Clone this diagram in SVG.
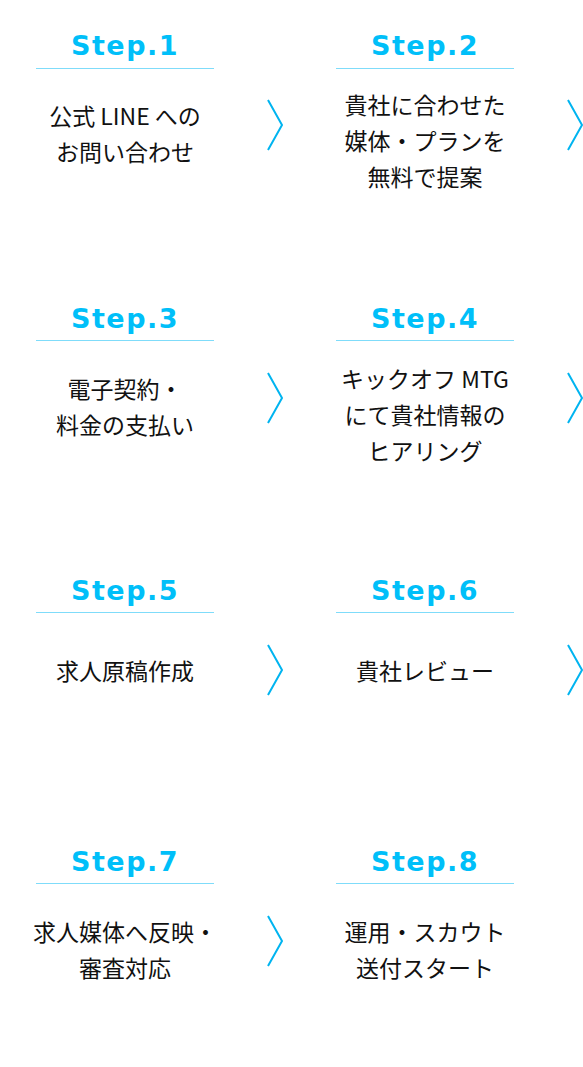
<svg xmlns="http://www.w3.org/2000/svg" width="583" height="1067" viewBox="0 0 583 1067">
<style>
.bg{fill:#ffffff}
.st{font-family:"DejaVu Sans",sans-serif;font-weight:700;font-size:27px;letter-spacing:1.5px;fill:#00bff9;text-anchor:middle}
.ln{stroke:#7fdcfa;stroke-width:1}
.tx{font-family:"Noto Sans CJK JP",sans-serif;font-size:23px;fill:#111111;text-anchor:middle}
.ch{fill:none;stroke:#00b4f0;stroke-width:2}
</style>
<rect class="bg" x="0" y="0" width="583" height="1067"/>
<g id="step1">
<text class="st" x="125" y="55">Step.1</text>
<line class="ln" x1="36" y1="68.5" x2="214" y2="68.5"/>
<text class="tx" x="125" y="125">公式 LINE への</text>
<text class="tx" x="125" y="161">お問い合わせ</text>
</g>
<g id="step2">
<text class="st" x="425" y="55">Step.2</text>
<line class="ln" x1="336" y1="68.5" x2="514" y2="68.5"/>
<text class="tx" x="425" y="114">貴社に合わせた</text>
<text class="tx" x="425" y="150">媒体・プランを</text>
<text class="tx" x="425" y="186">無料で提案</text>
</g>
<g id="step3">
<text class="st" x="125" y="328">Step.3</text>
<line class="ln" x1="36" y1="340.5" x2="214" y2="340.5"/>
<text class="tx" x="125" y="398">電子契約・</text>
<text class="tx" x="125" y="434">料金の支払い</text>
</g>
<g id="step4">
<text class="st" x="425" y="328">Step.4</text>
<line class="ln" x1="336" y1="340.5" x2="514" y2="340.5"/>
<text class="tx" x="425" y="388">キックオフ MTG</text>
<text class="tx" x="425" y="424">にて貴社情報の</text>
<text class="tx" x="425" y="460">ヒアリング</text>
</g>
<g id="step5">
<text class="st" x="125" y="600">Step.5</text>
<line class="ln" x1="36" y1="612.5" x2="214" y2="612.5"/>
<text class="tx" x="125" y="680">求人原稿作成</text>
</g>
<g id="step6">
<text class="st" x="425" y="600">Step.6</text>
<line class="ln" x1="336" y1="612.5" x2="514" y2="612.5"/>
<text class="tx" x="425" y="680">貴社レビュー</text>
</g>
<g id="step7">
<text class="st" x="125" y="871">Step.7</text>
<line class="ln" x1="36" y1="883.5" x2="214" y2="883.5"/>
<text class="tx" x="125" y="941">求人媒体へ反映・</text>
<text class="tx" x="125" y="977">審査対応</text>
</g>
<g id="step8">
<text class="st" x="425" y="871">Step.8</text>
<line class="ln" x1="336" y1="883.5" x2="514" y2="883.5"/>
<text class="tx" x="425" y="941">運用・スカウト</text>
<text class="tx" x="425" y="977">送付スタート</text>
</g>
<g id="connectors">
<polyline class="ch" points="268,100 282,125 268,150"/>
<polyline class="ch" points="568,100 582,125 568,150"/>
<polyline class="ch" points="268,373 282,398 268,423"/>
<polyline class="ch" points="568,373 582,398 568,423"/>
<polyline class="ch" points="268,645 282,670 268,695"/>
<polyline class="ch" points="568,645 582,670 568,695"/>
<polyline class="ch" points="268,916 282,941 268,966"/>
</g>
</svg>
